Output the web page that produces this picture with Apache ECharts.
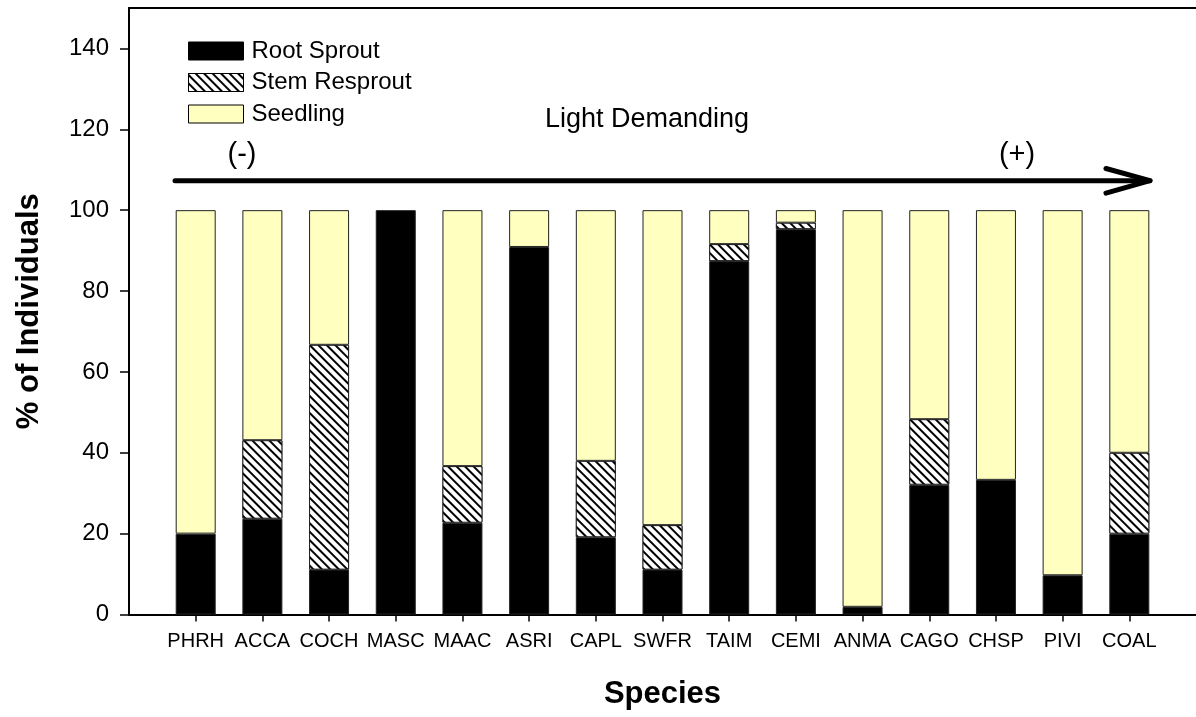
<!DOCTYPE html>
<html>
<head>
<meta charset="utf-8">
<script src="https://cdn.jsdelivr.net/npm/echarts@6/dist/echarts.min.js"></script>
<style>
  html, body { margin: 0; padding: 0; background: #fff; }
  #chart { width: 1196px; height: 717px; }
</style>
</head>
<body>
<div id="chart"></div>
<script>
// ---- data ----
const species = ['PHRH','ACCA','COCH','MASC','MAAC','ASRI','CAPL','SWFR','TAIM','CEMI','ANMA','CAGO','CHSP','PIVI','COAL'];
const rootSprout   = [20.0, 23.7, 11.1, 100.0, 22.7, 90.9, 19.1, 11.1, 87.4, 95.3, 1.9, 32.1, 33.3, 9.7, 20.0];
const stemResprout = [0, 19.4, 55.6, 0, 14.0, 0, 18.9, 11.0, 4.2, 1.6, 0, 16.2, 0, 0, 20.0];
const seedling     = [80.0, 56.9, 33.3, 0, 63.3, 9.1, 62.0, 77.9, 8.4, 3.1, 98.1, 51.7, 66.7, 90.3, 60.0];
const yTicks = [0, 20, 40, 60, 80, 100, 120, 140];
// arrow annotation (in axis units: x = category position, y = percent)
const arrowShaft = [[0.69, 107.3], [15.31, 107.3]];
const arrowHead  = [[14.65, 110.3], [15.31, 107.3], [14.65, 104.2]];

// pad one empty slot on each side so the categories sit at 1..15 of a 0..16 axis
const paddedCats = [''].concat(species, ['']);
const pad = arr => [null].concat(arr.map(v => (v === 0 ? null : v)), [null]);

const FONT = 'Liberation Sans, Arial, sans-serif';
const chart = echarts.init(document.getElementById('chart'), null, { renderer: 'canvas' });

const barBorder = { borderColor: '#222', borderWidth: 1 };
const inner = i => i > 0 && i < paddedCats.length - 1;

const option = {
  backgroundColor: '#fff',
  animation: false,
  textStyle: { fontFamily: FONT },
  grid: { left: 129, right: 0, top: 8, bottom: 102.5 },
  legend: {
    orient: 'vertical',
    left: 183,
    top: 34,
    icon: 'rect',
    itemWidth: 55,
    itemHeight: 18,
    itemGap: 7.5,
    selectedMode: false,
    itemStyle: { borderColor: '#000', borderWidth: 1 },
    textStyle: { fontFamily: FONT, fontSize: 24, color: '#000', padding: [0, 0, 0, 3] },
    data: ['Root Sprout', 'Stem Resprout', 'Seedling']
  },
  xAxis: [{
    type: 'category',
    data: paddedCats,
    boundaryGap: false,
    position: 'bottom',
    name: 'Species',
    nameLocation: 'middle',
    nameGap: 64,
    nameTextStyle: { fontFamily: FONT, fontSize: 31, fontWeight: 'bold', color: '#000' },
    axisLine: { show: true, onZero: false, lineStyle: { color: '#000', width: 2 } },
    axisTick: { show: true, length: 7, interval: inner, lineStyle: { color: '#000', width: 1.5 } },
    axisLabel: { interval: inner, margin: 17, fontFamily: FONT, fontSize: 20, color: '#000' },
    splitLine: { show: false }
  }, {
    type: 'value',
    min: 0, max: 16,
    position: 'top',
    axisLine: { show: true, onZero: false, lineStyle: { color: '#000', width: 2 } },
    axisTick: { show: false },
    axisLabel: { show: false },
    splitLine: { show: false }
  }],
  yAxis: {
    type: 'value',
    min: 0, max: 150, interval: 10,
    name: '% of Individuals',
    nameLocation: 'middle',
    nameGap: 84,
    nameTextStyle: { fontFamily: FONT, fontSize: 31, fontWeight: 'bold', color: '#000' },
    axisLine: { show: true, onZero: false, lineStyle: { color: '#000', width: 2 } },
    axisTick: { show: true, length: 9, customValues: yTicks, lineStyle: { color: '#000', width: 1.5 } },
    axisLabel: { customValues: yTicks, margin: 20, fontFamily: FONT, fontSize: 24, color: '#000' },
    splitLine: { show: false }
  },
  series: [
    {
      name: 'Root Sprout', type: 'bar', stack: 'total', barWidth: 40,
      itemStyle: Object.assign({ color: '#000' }, barBorder),
      data: pad(rootSprout)
    },
    {
      name: 'Stem Resprout', type: 'bar', stack: 'total', barWidth: 40,
      itemStyle: Object.assign({
        color: '#fff',
        decal: {
          symbol: 'rect', symbolSize: 1,
          dashArrayX: [[1, 0]], dashArrayY: [1.3, 3.9],
          rotation: Math.PI / 4,
          color: '#000', backgroundColor: '#fff'
        }
      }, barBorder),
      data: pad(stemResprout)
    },
    {
      name: 'Seedling', type: 'bar', stack: 'total', barWidth: 40,
      itemStyle: Object.assign({ color: '#ffffc0' }, barBorder),
      data: pad(seedling)
    },
    {
      name: 'arrowShaft', type: 'line', xAxisIndex: 1, data: arrowShaft, symbol: 'none', silent: true,
      lineStyle: { color: '#000', width: 5, cap: 'round' }, z: 5
    },
    {
      name: 'arrowHead', type: 'line', xAxisIndex: 1, data: arrowHead, symbol: 'none', silent: true,
      lineStyle: { color: '#000', width: 5, cap: 'round', join: 'round' }, z: 5
    }
  ],
  graphic: [
    { type: 'text', x: 647, y: 120,
      style: { text: 'Light Demanding', font: '27px ' + FONT, fill: '#000', textAlign: 'center', textVerticalAlign: 'middle' } },
    { type: 'text', x: 242, y: 155,
      style: { text: '(-)', font: '29px ' + FONT, fill: '#000', textAlign: 'center', textVerticalAlign: 'middle' } },
    { type: 'text', x: 1017, y: 155,
      style: { text: '(+)', font: '29px ' + FONT, fill: '#000', textAlign: 'center', textVerticalAlign: 'middle' } }
  ]
};
chart.setOption(option);
</script>
</body>
</html>
